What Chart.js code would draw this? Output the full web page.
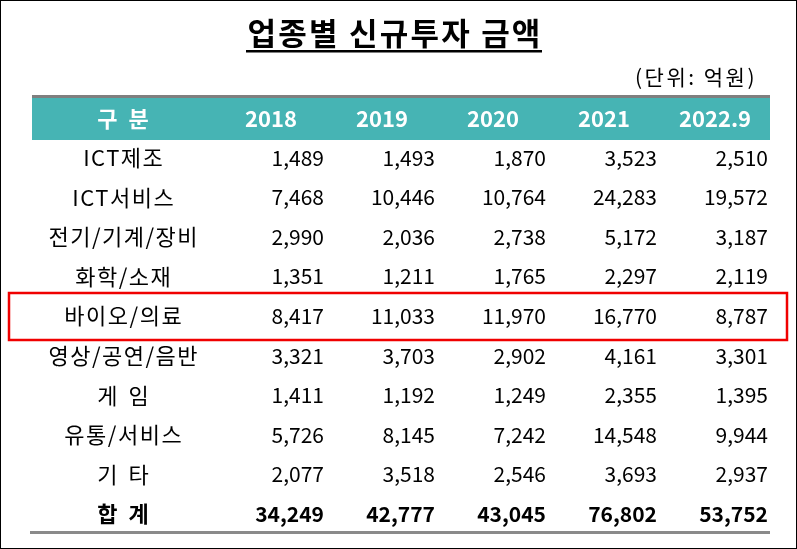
<!DOCTYPE html>
<html>
<head>
<meta charset="utf-8">
<script src="https://cdn.jsdelivr.net/npm/chart.js@4.4.0/dist/chart.umd.min.js"></script>
<style>
  html, body { margin: 0; padding: 0; background: #fff; }
  #wrap { width: 797px; height: 549px; position: relative; }
</style>
</head>
<body>
<div id="wrap"><canvas id="tbl"></canvas></div>
<script>
// table values (억원)
const TITLE = "업종별 신규투자 금액";
const UNIT = "(단위: 억원)";
const HEAD_LABEL = "구 분";
const TOTAL_LABEL = "합 계";
const years = ["2018", "2019", "2020", "2021", "2022.9"];
const rows = ["ICT제조", "ICT서비스", "전기/기계/장비", "화학/소재", "바이오/의료", "영상/공연/음반", "게 임", "유통/서비스", "기 타"];
const v2018 = [1489, 7468, 2990, 1351, 8417, 3321, 1411, 5726, 2077];
const v2019 = [1493, 10446, 2036, 1211, 11033, 3703, 1192, 8145, 3518];
const v2020 = [1870, 10764, 2738, 1765, 11970, 2902, 1249, 7242, 2546];
const v2021 = [3523, 24283, 5172, 2297, 16770, 4161, 2355, 14548, 3693];
const v2022 = [2510, 19572, 3187, 2119, 8787, 3301, 1395, 9944, 2937];
const totals = [34249, 42777, 43045, 76802, 53752];
const highlightRow = "바이오/의료";

const FONT = "'Noto Sans CJK KR', 'Noto Sans', sans-serif";
const seriesValues = [v2018, v2019, v2020, v2021, v2022];

const xLabels = [HEAD_LABEL].concat(years);
const yLabels = [HEAD_LABEL].concat(rows, [TOTAL_LABEL]);

const datasets = years.map((yr, i) => ({
  label: yr,
  data: rows.map((r, j) => ({ x: yr, y: r, v: seriesValues[i][j] }))
    .concat([{ x: yr, y: TOTAL_LABEL, v: totals[i] }]),
  pointRadius: 0,
  showLine: false,
}));

const fmt = n => n.toLocaleString("en-US");

// centered text with letter spacing (canvas adds the gap after the last glyph too)
function spacedText(ctx, txt, x, y, sp) {
  ctx.letterSpacing = sp + "px";
  ctx.fillText(txt, x + sp / 2, y);
  ctx.letterSpacing = "0px";
}

const tablePlugin = {
  id: "tablePlugin",
  beforeDatasetsDraw(chart) {
    const ctx = chart.ctx;
    const xs = chart.scales.x, ys = chart.scales.y;
    const headY = ys.getPixelForValue(0);
    ctx.save();
    // outer frame
    ctx.strokeStyle = "#000";
    ctx.lineWidth = 1;
    ctx.strokeRect(0.5, 0.5, chart.width - 1, chart.height - 1);

    // title + underline
    ctx.fillStyle = "#000";
    ctx.font = "bold 31px " + FONT;
    ctx.textAlign = "center";
    ctx.textBaseline = "middle";
    spacedText(ctx, TITLE, 394, 33, 2.2);
    ctx.fillRect(246, 50, 296, 2.5);

    // unit
    ctx.font = "21px " + FONT;
    ctx.textAlign = "right";
    ctx.letterSpacing = "2.5px";
    ctx.fillText(UNIT, 757, 77);
    ctx.letterSpacing = "0px";

    // header band
    ctx.fillStyle = "#46b4b4";
    ctx.fillRect(32, headY - 22, 738, 44);
    ctx.fillStyle = "#7f7f7f";
    ctx.fillRect(32, headY - 23, 738, 3);

    ctx.fillStyle = "#fff";
    ctx.font = "bold 22px " + FONT;
    ctx.textAlign = "center";
    xLabels.forEach((lab, i) => {
      if (i === 0) spacedText(ctx, lab, xs.getPixelForValue(0) - 37, headY + 1, 3);
      else ctx.fillText(lab, xs.getPixelForValue(i), headY + 1);
    });

    // row labels
    ctx.fillStyle = "#000";
    rows.concat([TOTAL_LABEL]).forEach(lab => {
      const y = ys.getPixelForValue(yLabels.indexOf(lab));
      ctx.font = (lab === TOTAL_LABEL ? "bold 22px " : "22px ") + FONT;
      spacedText(ctx, lab, xs.getPixelForValue(0) - 37, y, lab.indexOf(" ") >= 0 ? 3 : 1.5);
    });

    // bottom rule
    const lastY = ys.getPixelForValue(yLabels.length - 1);
    ctx.fillStyle = "#8a8a8a";
    ctx.fillRect(30, lastY + 17, 740, 3);

    // highlight box
    const hy = ys.getPixelForValue(yLabels.indexOf(highlightRow));
    ctx.strokeStyle = "#f00000";
    ctx.lineWidth = 2.5;
    ctx.strokeRect(9, hy - 23, 778, 47);
    ctx.restore();
  },
  afterDatasetsDraw(chart) {
    const ctx = chart.ctx;
    ctx.save();
    ctx.fillStyle = "#000";
    ctx.textAlign = "right";
    ctx.textBaseline = "middle";
    chart.data.datasets.forEach((ds, i) => {
      const meta = chart.getDatasetMeta(i);
      meta.data.forEach((pt, j) => {
        const d = ds.data[j];
        ctx.font = (d.y === TOTAL_LABEL ? "bold 21px " : "21px ") + FONT;
        ctx.fillText(fmt(d.v), pt.x + 53, pt.y);
      });
    });
    ctx.restore();
  }
};

new Chart(document.getElementById("tbl").getContext("2d"), {
  type: "scatter",
  data: { datasets: datasets },
  options: {
    responsive: true,
    maintainAspectRatio: false,
    animation: false,
    layout: { padding: { left: 104.5, right: 26.5, top: 98.2, bottom: 15.2 } },
    plugins: { legend: { display: false }, tooltip: { enabled: false } },
    scales: {
      x: { type: "category", labels: xLabels, offset: true, display: false },
      y: { type: "category", labels: yLabels, offset: true, display: false },
    },
  },
  plugins: [tablePlugin],
});
</script>
</body>
</html>
